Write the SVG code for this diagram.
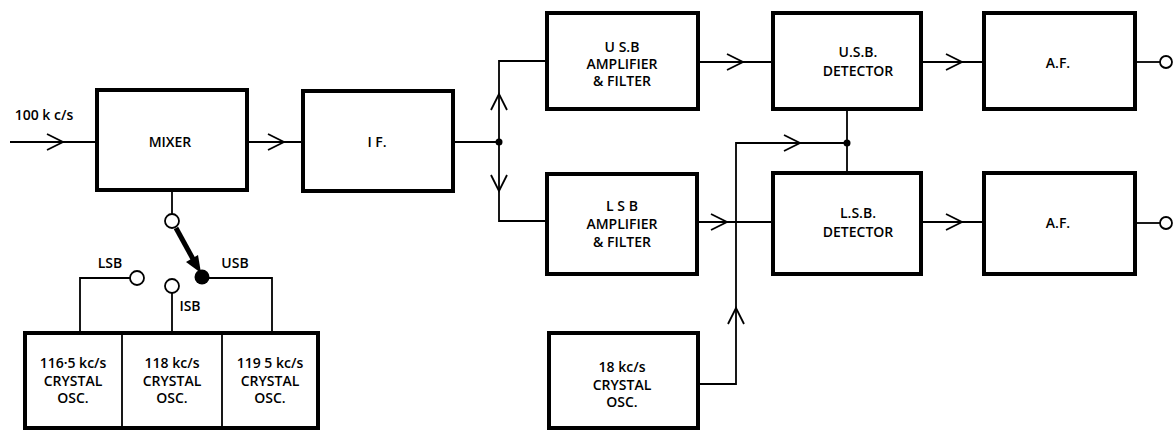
<svg xmlns="http://www.w3.org/2000/svg" width="1173" height="432" viewBox="0 0 1173 432">
<style>
.box{fill:#fff;stroke:#000;stroke-width:4}
.w{fill:none;stroke:#000;stroke-width:1.8}
.chev{fill:none;stroke:#000;stroke-width:1.8}
.t{font-family:"Open Sans","Liberation Sans",sans-serif;font-size:14px;font-weight:600;fill:#000;text-anchor:middle}
.ring{fill:#fff;stroke:#000;stroke-width:1.8}
</style>
<defs>
<path id="chev" class="chev" d="M-16,-8 L0,0 L-16,8"/>
</defs>
<rect width="1173" height="432" fill="#fff"/>
<g id="connectors">
<path class="w" d="M10,142 H97"/>
<use href="#chev" transform="translate(63,142)"/>
<path class="w" d="M247,142 H303"/>
<use href="#chev" transform="translate(284,142)"/>
<path class="w" d="M453,142 H499"/>
<path class="w" d="M547,61 H499 V221 H548"/>
<use href="#chev" transform="translate(499,94) rotate(-90)"/>
<use href="#chev" transform="translate(499,191) rotate(90)"/>
<circle cx="499" cy="142" r="3.5" fill="#000"/>
<path class="w" d="M698,62 H773"/>
<use href="#chev" transform="translate(743,62)"/>
<path class="w" d="M921,62 H984"/>
<use href="#chev" transform="translate(962,62)"/>
<path class="w" d="M1135,62 H1160"/>
<circle class="ring" cx="1166" cy="62" r="6"/>
<path class="w" d="M697,222 H773"/>
<use href="#chev" transform="translate(727,222)"/>
<path class="w" d="M921,222 H984"/>
<use href="#chev" transform="translate(962,222)"/>
<path class="w" d="M1135,223 H1160"/>
<circle class="ring" cx="1166" cy="223" r="6"/>
<path class="w" d="M847,109 V173"/>
<path class="w" d="M698,384 H736 V143 H847"/>
<use href="#chev" transform="translate(800,143)"/>
<use href="#chev" transform="translate(736,308) rotate(-90)"/>
<circle cx="847" cy="143" r="3.5" fill="#000"/>
<path class="w" d="M172,190 V214"/>
<circle class="ring" cx="172" cy="221" r="7"/>
<path d="M176,228 L193,259" stroke="#000" stroke-width="5" fill="none"/>
<path d="M201,273 L186,262 L198,255 Z" fill="#000"/>
<circle cx="202" cy="277" r="7.5" fill="#000"/>
<path class="w" d="M202,278 H272 V333"/>
<circle class="ring" cx="137" cy="278" r="7"/>
<path class="w" d="M130,278 H80 V333"/>
<circle class="ring" cx="172" cy="286" r="7"/>
<path class="w" d="M172,293 V333"/>
<text class="t" x="110" y="268">LSB</text>
<text class="t" x="235" y="268">USB</text>
<text class="t" x="190" y="311">ISB</text>
<text class="t" x="44" y="120">100 k c/s</text>
</g>
<g id="mixer">
<rect class="box" x="97" y="90" width="150" height="100"/>
<text class="t" x="170" y="147">MIXER</text>
</g>
<g id="if">
<rect class="box" x="303" y="91" width="150" height="100"/>
<text class="t" x="377" y="147">I F.</text>
</g>
<g id="usb-amp">
<rect class="box" x="547" y="13" width="151" height="96"/>
<text class="t" x="622" y="52">U S.B</text>
<text class="t" x="622" y="69">AMPLIFIER</text>
<text class="t" x="622" y="86">&amp; FILTER</text>
</g>
<g id="lsb-amp">
<rect class="box" x="547" y="174" width="150" height="100"/>
<text class="t" x="622" y="211">L S B</text>
<text class="t" x="622" y="229">AMPLIFIER</text>
<text class="t" x="622" y="247">&amp; FILTER</text>
</g>
<g id="usb-det">
<rect class="box" x="773" y="13" width="148" height="96"/>
<text class="t" x="858" y="57">U.S.B.</text>
<text class="t" x="858" y="76">DETECTOR</text>
</g>
<g id="lsb-det">
<rect class="box" x="773" y="173" width="148" height="101"/>
<text class="t" x="858" y="218">L.S.B.</text>
<text class="t" x="858" y="237">DETECTOR</text>
</g>
<g id="af-upper">
<rect class="box" x="984" y="13" width="151" height="96"/>
<text class="t" x="1058" y="68">A.F.</text>
</g>
<g id="af-lower">
<rect class="box" x="984" y="173" width="151" height="101"/>
<text class="t" x="1058" y="228">A.F.</text>
</g>
<g id="osc-18">
<rect class="box" x="549" y="333" width="149" height="95"/>
<text class="t" x="622" y="372">18 kc/s</text>
<text class="t" x="622" y="390">CRYSTAL</text>
<text class="t" x="622" y="407">OSC.</text>
</g>
<g id="osc-bank">
<rect class="box" x="25" y="333" width="293" height="95"/>
<path class="w" d="M122,333 V428 M222,333 V428"/>
<text class="t" x="73" y="368">116·5 kc/s</text>
<text class="t" x="73" y="386">CRYSTAL</text>
<text class="t" x="73" y="403">OSC.</text>
<text class="t" x="172" y="368">118 kc/s</text>
<text class="t" x="172" y="386">CRYSTAL</text>
<text class="t" x="172" y="403">OSC.</text>
<text class="t" x="270" y="368">119 5 kc/s</text>
<text class="t" x="270" y="386">CRYSTAL</text>
<text class="t" x="270" y="403">OSC.</text>
</g>
</svg>
